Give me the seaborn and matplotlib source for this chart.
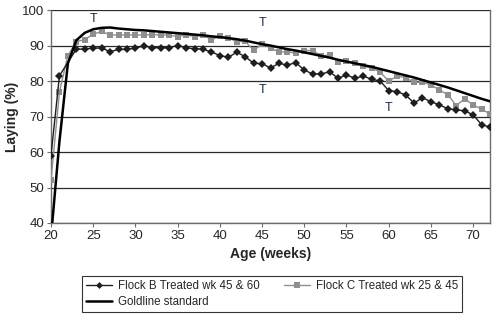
import matplotlib
matplotlib.use("Agg")
import matplotlib.pyplot as plt
import seaborn as sns
import pandas as pd
from matplotlib.lines import Line2D

# Weekly laying rates (%)
flock_b_weeks = [20, 21] + list(range(23, 73))
flock_b = [59.0, 81.5,
           89.0, 89.0, 89.3, 89.3, 88.3, 88.9, 88.9, 89.3, 89.9, 89.4,
           89.4, 89.4, 90.0, 89.4, 89.1, 89.0, 88.2, 87.2, 86.7, 88.1,
           86.9, 85.0, 84.9, 83.7, 85.0, 84.5, 85.2, 83.1, 82.0, 82.0,
           82.6, 80.8, 81.7, 80.8, 81.4, 80.5, 80.0, 77.3, 77.0, 76.1,
           73.8, 75.3, 74.2, 73.3, 72.2, 71.9, 71.6, 70.5, 67.7, 67.0]

flock_c_weeks = list(range(20, 73))
flock_c = [52.0, 77.0, 87.2,
           91.1, 91.7, 93.2, 94.0, 93.0, 93.0, 93.0, 93.0, 93.0, 93.1,
           93.0, 93.0, 92.5, 93.1, 92.5, 93.0, 91.6, 92.7, 92.2, 91.1,
           91.2, 88.7, 90.4, 89.4, 88.1, 88.3, 87.8, 88.6, 88.6, 87.1,
           87.3, 85.5, 85.7, 85.0, 84.2, 83.7, 82.5, 80.0, 81.4, 81.0,
           79.6, 79.7, 78.9, 77.5, 76.2, 73.1, 75.0, 73.3, 72.1, 70.7]

standard_weeks = list(range(20, 73))
standard = [36.0, 63.0, 85.0,
            91.5, 93.6, 94.6, 95.0, 95.1, 94.8, 94.6, 94.4, 94.3, 94.1,
            93.9, 93.7, 93.5, 93.3, 93.1, 92.9, 92.6, 92.4, 92.1, 91.8,
            91.4, 90.9, 90.4, 90.0, 89.5, 89.0, 88.6, 88.1, 87.6, 87.1,
            86.6, 86.0, 85.5, 85.0, 84.5, 84.0, 83.4, 82.8, 82.2, 81.6,
            81.0, 80.3, 79.6, 78.9, 78.2, 77.4, 76.6, 75.8, 75.0, 74.3]

# Treatment markers (week, laying %)
treat_weeks = [25, 45, 45, 60]
treat_levels = [97.5, 96.5, 77.5, 72.5]

labels = ["Flock B Treated wk 45 & 60", "Flock C Treated wk 25 & 45",
          "Goldline standard"]

sns.set_style("white")
plt.rcParams["font.family"] = ["Liberation Sans", "DejaVu Sans"]

fig = plt.figure(figsize=(5.0, 3.26), dpi=100)
ax = fig.add_axes([0.102, 0.316, 0.878, 0.653])

df_b = pd.DataFrame({"week": flock_b_weeks, "lay": flock_b})
df_c = pd.DataFrame({"week": flock_c_weeks, "lay": flock_c})
df_s = pd.DataFrame({"week": standard_weeks, "lay": standard})

col_b = "#1e1e1e"
col_c = "#8f8f8f"

sns.lineplot(data=df_c, x="week", y="lay", ax=ax, color=col_c, lw=1.0,
             marker="s", markersize=4.8, markeredgewidth=0,
             sort=False, estimator=None, zorder=3)
sns.lineplot(data=df_b, x="week", y="lay", ax=ax, color=col_b, lw=1.0,
             marker="D", markersize=4.2, markeredgewidth=0,
             sort=False, estimator=None, zorder=4)
sns.lineplot(data=df_s, x="week", y="lay", ax=ax, color="#000000", lw=1.8,
             sort=False, estimator=None, zorder=5)

for w, v in zip(treat_weeks, treat_levels):
    ax.text(w, v, "T", ha="center", va="center", fontsize=9,
            color="#1c2a48", zorder=6)

ax.set_xlim(20, 72)
ax.set_ylim(40, 100)
ax.set_xticks(range(20, 71, 5))
ax.set_yticks(range(40, 101, 10))
ax.yaxis.grid(True, color="#2a2a2a", lw=0.9)
ax.xaxis.grid(False)
ax.set_axisbelow(True)

for side in ["left", "bottom", "right"]:
    ax.spines[side].set_visible(True)
    ax.spines[side].set_color("#6e6e6e")
    ax.spines[side].set_linewidth(1.0)
ax.spines["top"].set_visible(False)

ax.tick_params(axis="both", which="both", direction="out", length=3,
               width=0.8, color="#6e6e6e", labelsize=9.5, pad=2,
               bottom=True, left=True)

ax.set_xlabel("Age (weeks)", fontsize=10, fontweight="bold", labelpad=4)
ax.set_ylabel("Laying (%)", fontsize=10, fontweight="bold", labelpad=2)

handles = [
    Line2D([], [], color=col_b, lw=1.0, marker="D", markersize=3.5,
           markeredgewidth=0),
    Line2D([], [], color="#000000", lw=1.8),
    Line2D([], [], color=col_c, lw=1.0, marker="s", markersize=4,
           markeredgewidth=0),
]
leg = fig.legend(handles, [labels[0], labels[2], labels[1]], ncol=2,
                 loc="lower left", bbox_to_anchor=(0.152, 0.024, 0.784, 0.125),
                 mode="expand", frameon=True, fancybox=False, fontsize=8.3,
                 handlelength=2.3, handletextpad=0.5, borderpad=0.35,
                 labelspacing=0.35, columnspacing=1.0)
leg.get_frame().set_edgecolor("#000000")
leg.get_frame().set_linewidth(0.8)

fig.savefig("out.png", dpi=100)
